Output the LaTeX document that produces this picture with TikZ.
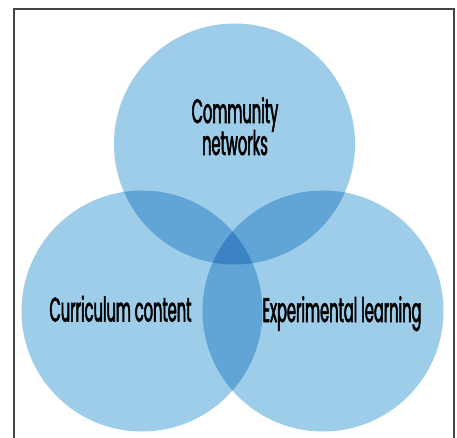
\documentclass[tikz,border=0pt]{standalone}
\usepackage{fontspec}
\setmainfont{Poppins}[FakeStretch=0.43,FakeBold=1.6]
\definecolor{vennblue}{HTML}{9ECDEA}
\definecolor{framegray}{HTML}{454545}

\begin{document}
\begin{tikzpicture}[x=1pt,y=-1pt,
    venn/.style={circle,fill=vennblue,minimum size=241pt,inner sep=0pt},
    label/.style={font=\fontsize{34}{26}\selectfont,text=black,inner sep=0pt,align=center}]
    \useasboundingbox (0,0) rectangle (457,438);
    \clip (0,0) rectangle (457,438);
    \draw[framegray,line width=1.6pt] (14,460) -- (14,9) -- (454,9) -- (454,460);
    \begin{scope}[blend group=multiply]
        \node[venn] (top) at (234.5,144) {};
        \node[venn] (left) at (142,311) {};
        \node[venn] (right) at (323,311) {};
    \end{scope}
    \node[label,anchor=base] (community) at (235,155) {Community\\[-3pt]networks};
    \node[label,anchor=base] (curriculum) at (120.5,321.5) {Curriculum content};
    \node[label,anchor=base] (experimental) at (342,322) {Experimental learning};
\end{tikzpicture}
\end{document}
